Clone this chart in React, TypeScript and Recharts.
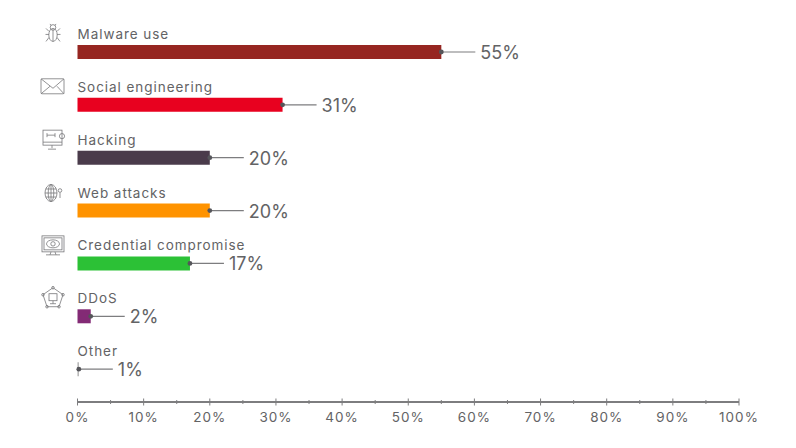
import React from 'react';
import { BarChart, Bar, XAxis, YAxis, Cell, LabelList } from 'recharts';

const categories = ['Malware use', 'Social engineering', 'Hacking', 'Web attacks', 'Credential compromise', 'DDoS', 'Other'];
// the "Other" bar is drawn much shorter than its 1% label in the source picture
const barValues = [55, 31, 20, 20, 17, 2, 0.2];
const valueLabels = ['55%', '31%', '20%', '20%', '17%', '2%', '1%'];
const barColors = ['#962621', '#e8011f', '#4a3b4b', '#ff9300', '#2cc136', '#832a75', '#aaaaaa'];
const xTicks = [0, 5, 10, 15, 20, 25, 30, 35, 40, 45, 50, 55, 60, 65, 70, 75, 80, 85, 90, 95, 100];

const data = categories.map((name, i) => ({ name, value: barValues[i], label: valueLabels[i] }));

const FONT = 'Inter, "Open Sans", sans-serif';
const TEXT = '#636365';
const LINE = '#7d7d7f';

const Icon = ({ name }: { name: string }) => {
  const common = { fill: 'none', stroke: '#77777a', strokeWidth: 0.8 };
  if (name === 'Malware use') {
    return (
      <g {...common}>
        <ellipse cx={0} cy={1.5} rx={4.2} ry={6.5} />
        <circle cx={0} cy={-6} r={2.8} />
        <path d="M-4 -2 L-7 -5 M4 -2 L7 -5 M-4 1 L-7.5 1 M4 1 L7.5 1 M-4 4 L-7 8 M4 4 L7 8 M0 -4 L0 8 M-2 -8 L-3 -9.5 M2 -8 L3 -9.5" />
      </g>
    );
  }
  if (name === 'Social engineering') {
    return (
      <g {...common}>
        <rect x={-12} y={-7.5} width={23} height={15} rx={1} />
        <path d="M-12 -7.5 L0 2 L11 -7.5 M-12 7.5 L-3 0 M11 7.5 L4 0" />
      </g>
    );
  }
  if (name === 'Hacking') {
    return (
      <g {...common}>
        <rect x={-10} y={-9} width={19} height={15} />
        <circle cx={9} cy={-3} r={2.6} />
        <path d="M-6 -4 L2 -4 M-6 -6 L-6 -2 M2 -6 L2 -2 M-10 3 L9 3 M-1 6 L-1 9 M-5 10 L3 10" />
      </g>
    );
  }
  if (name === 'Web attacks') {
    return (
      <g {...common}>
        <ellipse cx={-2} cy={1} rx={6} ry={8.5} />
        <ellipse cx={-2} cy={1} rx={2.8} ry={8.5} />
        <path d="M-8 1 L4 1 M-7.3 -3 L3.3 -3 M-7.3 5 L3.3 5 M-2 -7.5 L-2 9.5" />
        <circle cx={7} cy={-1.5} r={1.8} />
        <path d="M7 0.5 L7 6" />
      </g>
    );
  }
  if (name === 'Credential compromise') {
    return (
      <g {...common}>
        <rect x={-11} y={-9} width={22} height={16} />
        <rect x={-9} y={-7} width={18} height={12} />
        <ellipse cx={0} cy={-1} rx={6.5} ry={4} />
        <circle cx={0} cy={-1} r={2.2} />
        <path d="M-2 7 L-3 10 M2 7 L3 10 M-7 10 L7 10" />
      </g>
    );
  }
  if (name === 'DDoS') {
    return (
      <g {...common}>
        <path d="M0 -10 L10 -3 L6 9 L-6 9 L-10 -3 Z" />
        <rect x={-4} y={-4} width={8} height={7} />
        <path d="M0 3 L0 6 M-3 6 L3 6" />
        <circle cx={0} cy={-10} r={1.3} />
        <circle cx={10} cy={-3} r={1.3} />
        <circle cx={-10} cy={-3} r={1.3} />
        <circle cx={6} cy={9} r={1.3} />
        <circle cx={-6} cy={9} r={1.3} />
      </g>
    );
  }
  return null;
};

// category name above the bar, icon to its left
const CategoryTick = (props: any) => {
  const { y, payload } = props;
  return (
    <g>
      <g transform={`translate(53 ${y - 19})`}>
        <Icon name={payload.value} />
      </g>
      <text x={77.5} y={y - 13.5} fontSize={13.5} fontFamily={FONT} fill={TEXT} letterSpacing={0.95}>
        {payload.value}
      </text>
    </g>
  );
};

const PercentTick = (props: any) => {
  const { x, y, payload } = props;
  const major = payload.value % 10 === 0;
  return (
    <g>
      <line x1={x} x2={x} y1={y - (major ? 3.5 : 2)} y2={y + (major ? 3.5 : 2)} stroke={LINE} strokeWidth={1} />
      {major && (
        <text x={x} y={y + 20} textAnchor="middle" fontSize={13.5} fontFamily={FONT} fill={TEXT} letterSpacing={1}>
          {payload.value}%
        </text>
      )}
    </g>
  );
};

// leader line with dot and the value
const ValueCallout = (props: any) => {
  const { x, y, width, height, value } = props;
  const end = x + width;
  const mid = y + height / 2;
  return (
    <g>
      <line x1={end} x2={end + 34} y1={mid} y2={mid} stroke={LINE} strokeWidth={1.2} />
      <circle cx={end} cy={mid} r={2.4} fill="#55555a" />
      <text x={end + 39} y={mid + 7} fontSize={18} fontFamily={FONT} fill={TEXT}>
        {value}
      </text>
    </g>
  );
};

export default function App() {
  return (
    <div style={{ position: 'absolute', left: 0, top: 0, width: 796, height: 448, background: '#fff' }}>
      <BarChart
        width={796}
        height={448}
        data={data}
        layout="vertical"
        margin={{ top: 26, right: 57, bottom: 0, left: 0 }}
        barSize={14}
      >
        <XAxis
          type="number"
          domain={[0, 100]}
          ticks={xTicks}
          interval={0}
          height={46}
          tickSize={0}
          tickMargin={0}
          axisLine={{ stroke: LINE, strokeWidth: 2 }}
          tickLine={false}
          tick={<PercentTick />}
        />
        <YAxis
          type="category"
          dataKey="name"
          width={77.5}
          axisLine={false}
          tickLine={false}
          padding={{ top: 0, bottom: 6 }}
          interval={0}
          tick={<CategoryTick />}
        />
        <Bar dataKey="value" isAnimationActive={false}>
          {data.map((d, i) => (
            <Cell key={d.name} fill={barColors[i]} />
          ))}
          <LabelList dataKey="label" content={<ValueCallout />} />
        </Bar>
      </BarChart>
    </div>
  );
}
